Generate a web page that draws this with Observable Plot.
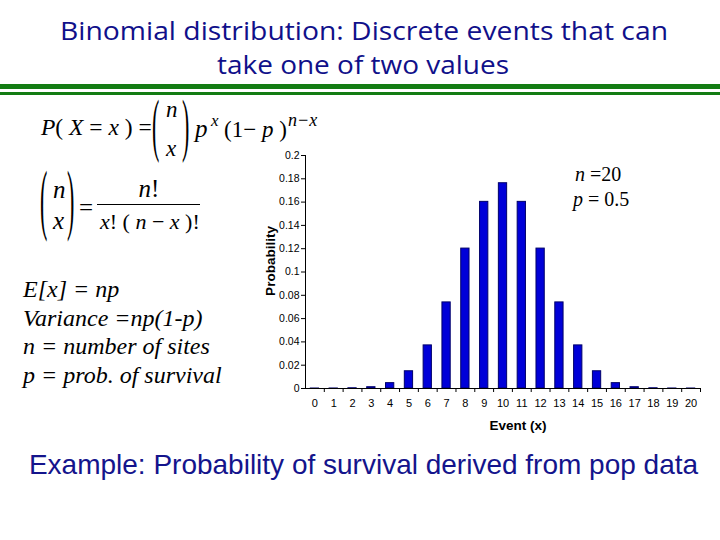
<!DOCTYPE html>
<html>
<head>
<meta charset="utf-8">
<script src="https://cdn.jsdelivr.net/npm/d3@7"></script>
<script src="https://cdn.jsdelivr.net/npm/@observablehq/plot@0.6"></script>
<style>
  html, body { margin: 0; padding: 0; background: #fff; }
  #page { position: relative; width: 720px; height: 540px; overflow: hidden; background: #fff; }
  .abs { position: absolute; }
  #notes { left: 23px; top: 275px; font-family: "Liberation Serif", "Times New Roman", serif; font-style: italic; font-size: 24px; line-height: 28.5px; color: #000; white-space: nowrap; }
  #example { left: 0; width: 727px; top: 449px; text-align: center; font-family: "Liberation Sans", Arial, sans-serif; font-size: 28px; color: #14148c; white-space: nowrap; }
  .gl { left: 0; width: 720px; background: #137c13; }
</style>
</head>
<body>
<div id="page">
  <svg class="abs" style="left:0;top:0" width="720" height="100">
    <text x="364" y="40" text-anchor="middle" font-family="Open Sans, DejaVu Sans, sans-serif" font-size="26" fill="#10108a" textLength="608" lengthAdjust="spacingAndGlyphs">Binomial distribution: Discrete events that can</text>
    <text x="363" y="74" text-anchor="middle" font-family="Open Sans, DejaVu Sans, sans-serif" font-size="26" fill="#10108a" textLength="292" lengthAdjust="spacingAndGlyphs">take one of two values</text>
  </svg>
  <div class="abs gl" style="top:84px;height:5px"></div>
  <div class="abs gl" style="top:92px;height:3px"></div>

  <svg class="abs" style="left:0;top:0" width="720" height="260" font-family="Liberation Serif, Times New Roman, serif" font-size="25" fill="#000">
    <text x="41" y="135" font-size="23.5"><tspan font-style="italic">P</tspan>( <tspan font-style="italic">X</tspan> = <tspan font-style="italic">x</tspan> ) =</text>
    <text transform="translate(152,148) scale(1,3.2)" font-size="22">(</text>
    <text x="166" y="117" font-style="italic" font-size="23">n</text>
    <text x="166" y="156" font-style="italic" font-size="23">x</text>
    <text transform="translate(182,148) scale(1,3.2)" font-size="22">)</text>
    <text x="195" y="137" font-style="italic">p</text>
    <text x="211" y="126" font-style="italic" font-size="17">x</text>
    <text x="224" y="137" font-size="23">(1− <tspan font-style="italic">p</tspan> )</text>
    <text x="288" y="126" font-style="italic" font-size="18">n−x</text>

    <text transform="translate(40,225) scale(1,3.6)" font-size="22">(</text>
    <text x="53" y="198" font-style="italic">n</text>
    <text x="53" y="229" font-style="italic">x</text>
    <text transform="translate(67,225) scale(1,3.6)" font-size="22">)</text>
    <text x="79" y="216">=</text>
    <line x1="97" x2="200" y1="204.5" y2="204.5" stroke="#000" stroke-width="1.2"></line>
    <text x="149" y="197" text-anchor="middle"><tspan font-style="italic">n</tspan>!</text>
    <text x="100" y="229" font-size="22"><tspan font-style="italic">x</tspan>! ( <tspan font-style="italic">n</tspan> − <tspan font-style="italic">x</tspan> )!</text>
  </svg>

  <div id="notes" class="abs">E[x] = np<br>Variance =np(1-p)<br>n = number of sites<br>p = prob. of survival</div>

  <div id="chart" class="abs" style="left:240px;top:140px"></div>

  <svg class="abs" style="left:560px;top:160px" width="120" height="60" font-family="Liberation Serif, Times New Roman, serif" font-size="20" fill="#000">
    <text x="15" y="21"><tspan font-style="italic">n</tspan> =20</text>
    <text x="13" y="46"><tspan font-style="italic">p</tspan> = 0.5</text>
  </svg>

  <div id="example" class="abs">Example: Probability of survival derived from pop data</div>
</div>
<script>
const events = [0,1,2,3,4,5,6,7,8,9,10,11,12,13,14,15,16,17,18,19,20];
const probs = [0.000001,0.00002,0.0002,0.0011,0.0046,0.0148,0.037,0.0739,0.1201,0.1602,0.1762,0.1602,0.1201,0.0739,0.037,0.0148,0.0046,0.0011,0.0002,0.00002,0.000001];
const yTicks = [0,0.02,0.04,0.06,0.08,0.1,0.12,0.14,0.16,0.18,0.2];
const xTitle = "Event (x)";
const yTitle = "Probability";

const data = events.map((x, i) => ({x, p: probs[i]}));
const W = 470, H = 300, mL = 65, mR = 10, mT = 15, mB = 52;
const step = (W - mL - mR) / events.length;
const inset = step * 0.28;

const chart = Plot.plot({
  width: W, height: H,
  marginLeft: mL, marginRight: mR, marginTop: mT, marginBottom: mB,
  style: {fontFamily: "Liberation Sans, Arial, sans-serif", fontSize: "10.5px", color: "#000", background: "transparent", overflow: "visible"},
  x: {type: "band", domain: events, padding: 0, round: false, label: null},
  y: {domain: [0, 0.2], label: null},
  marks: [
    Plot.barY(data, {x: "x", y: "p", fill: "#0000d8", stroke: "#00006a", strokeWidth: 1, insetLeft: inset, insetRight: inset}),
    Plot.ruleY([0], {stroke: "#000"}),
    Plot.frame({anchor: "left", stroke: "#000"}),
    Plot.axisY({ticks: yTicks, tickFormat: d3.format("~g"), tickSize: 4, tickPadding: 2}),
    Plot.axisX({tickSize: 0, tickPadding: 11, fontSize: 11}),
    Plot.axisX({tickSize: 4, tickFormat: () => "", dx: step / 2}),
    Plot.text([xTitle], {frameAnchor: "bottom", lineAnchor: "middle", textAnchor: "middle", dy: 37, dx: 15, fontWeight: "bold", fontSize: 13.5}),
    Plot.text([yTitle], {frameAnchor: "left", textAnchor: "middle", lineAnchor: "middle", rotate: -90, dx: -35, dy: -11, fontWeight: "bold", fontSize: 13.5})
  ]
});
document.getElementById("chart").appendChild(chart);
</script>
</body>
</html>
